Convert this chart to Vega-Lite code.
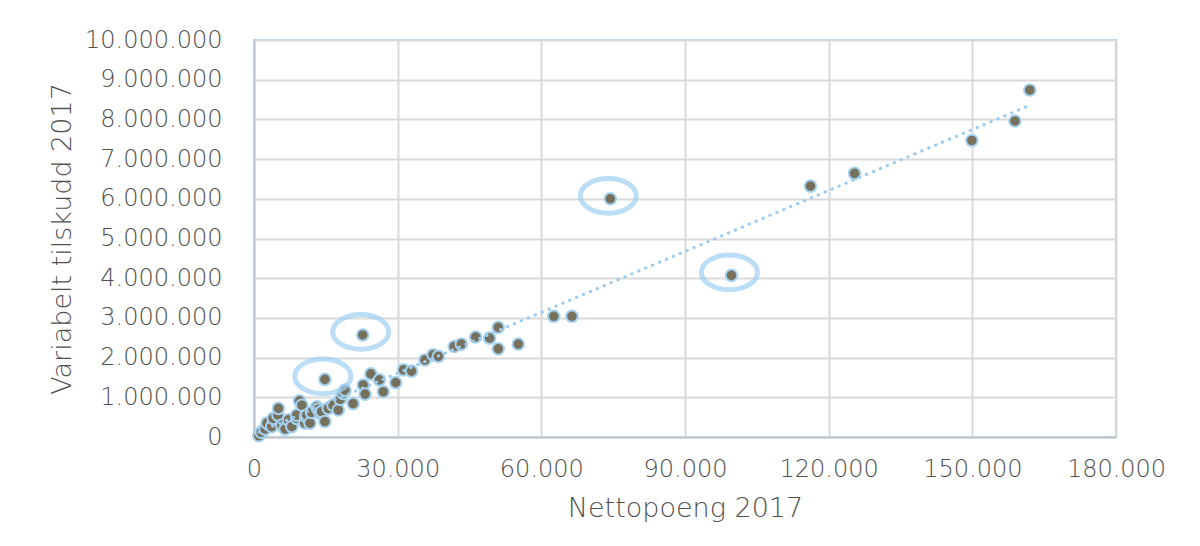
{
  "$schema": "https://vega.github.io/schema/vega-lite/v6.json",
  "width": 862,
  "height": 397,
  "autosize": {"type": "none"},
  "padding": {"left": 254, "top": 40, "right": 84, "bottom": 109},
  "background": "#ffffff",
  "config": {
    "locale": {"number": {"decimal": ",", "thousands": ".", "grouping": [3], "currency": ["kr ", ""]}},
    "view": {"stroke": "#A9D3F0", "strokeWidth": 2},
    "font": "DejaVu Sans",
    "axis": {
      "labelFont": "DejaVu Sans",
      "labelFontWeight": 200,
      "labelFontSize": 24,
      "labelColor": "#505050",
      "titleFont": "DejaVu Sans",
      "titleFontWeight": 200,
      "titleFontSize": 27,
      "titleColor": "#505050",
      "gridColor": "#D9D9D9",
      "gridWidth": 2,
      "ticks": false,
      "domainColor": "#BFC6CE",
      "domainWidth": 2
    }
  },
  "data": {
    "values": [
      {"nettopoeng": 1000, "tilskudd": 30000, "marked": false},
      {"nettopoeng": 1500, "tilskudd": 120000, "marked": false},
      {"nettopoeng": 2300, "tilskudd": 200000, "marked": false},
      {"nettopoeng": 2700, "tilskudd": 350000, "marked": false},
      {"nettopoeng": 3700, "tilskudd": 260000, "marked": false},
      {"nettopoeng": 4000, "tilskudd": 470000, "marked": false},
      {"nettopoeng": 5000, "tilskudd": 550000, "marked": false},
      {"nettopoeng": 5100, "tilskudd": 720000, "marked": false},
      {"nettopoeng": 5800, "tilskudd": 300000, "marked": false},
      {"nettopoeng": 6500, "tilskudd": 200000, "marked": false},
      {"nettopoeng": 7200, "tilskudd": 430000, "marked": false},
      {"nettopoeng": 7900, "tilskudd": 260000, "marked": false},
      {"nettopoeng": 8900, "tilskudd": 470000, "marked": false},
      {"nettopoeng": 8900, "tilskudd": 550000, "marked": false},
      {"nettopoeng": 9500, "tilskudd": 910000, "marked": false},
      {"nettopoeng": 10000, "tilskudd": 800000, "marked": false},
      {"nettopoeng": 10600, "tilskudd": 350000, "marked": false},
      {"nettopoeng": 10800, "tilskudd": 510000, "marked": false},
      {"nettopoeng": 11000, "tilskudd": 550000, "marked": false},
      {"nettopoeng": 11700, "tilskudd": 350000, "marked": false},
      {"nettopoeng": 12000, "tilskudd": 620000, "marked": false},
      {"nettopoeng": 13100, "tilskudd": 760000, "marked": false},
      {"nettopoeng": 13400, "tilskudd": 700000, "marked": false},
      {"nettopoeng": 13800, "tilskudd": 600000, "marked": false},
      {"nettopoeng": 14100, "tilskudd": 640000, "marked": false},
      {"nettopoeng": 14800, "tilskudd": 390000, "marked": false},
      {"nettopoeng": 14800, "tilskudd": 1450000, "marked": true},
      {"nettopoeng": 15500, "tilskudd": 720000, "marked": false},
      {"nettopoeng": 16500, "tilskudd": 800000, "marked": false},
      {"nettopoeng": 17600, "tilskudd": 680000, "marked": false},
      {"nettopoeng": 18000, "tilskudd": 950000, "marked": false},
      {"nettopoeng": 18600, "tilskudd": 1100000, "marked": false},
      {"nettopoeng": 19000, "tilskudd": 1180000, "marked": false},
      {"nettopoeng": 20700, "tilskudd": 840000, "marked": false},
      {"nettopoeng": 22700, "tilskudd": 2570000, "marked": true},
      {"nettopoeng": 22800, "tilskudd": 1310000, "marked": false},
      {"nettopoeng": 23200, "tilskudd": 1080000, "marked": false},
      {"nettopoeng": 24400, "tilskudd": 1590000, "marked": false},
      {"nettopoeng": 26200, "tilskudd": 1440000, "marked": false},
      {"nettopoeng": 27000, "tilskudd": 1140000, "marked": false},
      {"nettopoeng": 29600, "tilskudd": 1370000, "marked": false},
      {"nettopoeng": 31200, "tilskudd": 1690000, "marked": false},
      {"nettopoeng": 32900, "tilskudd": 1660000, "marked": false},
      {"nettopoeng": 35700, "tilskudd": 1940000, "marked": false},
      {"nettopoeng": 37400, "tilskudd": 2070000, "marked": false},
      {"nettopoeng": 38500, "tilskudd": 2030000, "marked": false},
      {"nettopoeng": 41800, "tilskudd": 2280000, "marked": false},
      {"nettopoeng": 43300, "tilskudd": 2340000, "marked": false},
      {"nettopoeng": 46300, "tilskudd": 2520000, "marked": false},
      {"nettopoeng": 49200, "tilskudd": 2490000, "marked": false},
      {"nettopoeng": 51000, "tilskudd": 2760000, "marked": false},
      {"nettopoeng": 51000, "tilskudd": 2220000, "marked": false},
      {"nettopoeng": 55200, "tilskudd": 2340000, "marked": false},
      {"nettopoeng": 62600, "tilskudd": 3040000, "marked": false},
      {"nettopoeng": 66400, "tilskudd": 3040000, "marked": false},
      {"nettopoeng": 74400, "tilskudd": 6000000, "marked": true},
      {"nettopoeng": 99700, "tilskudd": 4070000, "marked": true},
      {"nettopoeng": 116200, "tilskudd": 6320000, "marked": false},
      {"nettopoeng": 125400, "tilskudd": 6640000, "marked": false},
      {"nettopoeng": 149900, "tilskudd": 7470000, "marked": false},
      {"nettopoeng": 158900, "tilskudd": 7960000, "marked": false},
      {"nettopoeng": 162000, "tilskudd": 8740000, "marked": false}
    ]
  },
  "encoding": {
    "x": {
      "field": "nettopoeng",
      "type": "quantitative",
      "scale": {"domain": [0, 180000], "nice": false, "zero": true},
      "axis": {
        "values": [0, 30000, 60000, 90000, 120000, 150000, 180000],
        "format": ",d",
        "title": "Nettopoeng 2017",
        "labelPadding": 20,
        "titlePadding": 14,
        "labelFlush": false
      }
    },
    "y": {
      "field": "tilskudd",
      "type": "quantitative",
      "scale": {"domain": [0, 10000000], "nice": false},
      "axis": {
        "values": [0, 1000000, 2000000, 3000000, 4000000, 5000000, 6000000, 7000000, 8000000, 9000000, 10000000],
        "format": ",d",
        "title": "Variabelt tilskudd 2017",
        "labelPadding": 32,
        "titlePadding": 8,
        "labelFlush": false
      }
    }
  },
  "layer": [
    {
      "mark": {"type": "point", "filled": true, "shape": "circle", "size": 135, "fill": "#75715C", "fillOpacity": 1, "stroke": "#A6D2F2", "strokeWidth": 2, "strokeOpacity": 1}
    },
    {
      "transform": [{"regression": "tilskudd", "on": "nettopoeng"}],
      "mark": {"type": "line", "stroke": "#9DCBF0", "strokeWidth": 3, "strokeDash": [0.5, 7], "strokeCap": "round"}
    },
    {
      "transform": [{"filter": "datum.marked"}],
      "mark": {
        "type": "point",
        "shape": "M -1 0 A 1 0.62 0 1 0 1 0 A 1 0.62 0 1 0 -1 0 Z",
        "size": 3136,
        "filled": false,
        "fill": null,
        "stroke": "#9ECFF2",
        "strokeWidth": 5,
        "strokeOpacity": 1,
        "xOffset": -2,
        "yOffset": -3
      }
    }
  ]
}
